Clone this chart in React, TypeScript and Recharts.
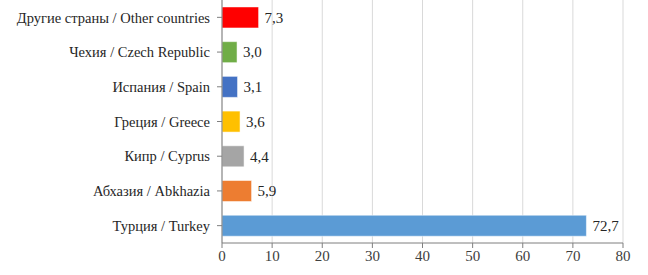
import React from 'react';
import { BarChart, Bar, XAxis, YAxis, CartesianGrid, Cell, LabelList } from 'recharts';

const countries = [
    'Другие страны / Other countries',
    'Чехия / Czech Republic',
    'Испания  / Spain',
    'Греция / Greece',
    'Кипр / Cyprus',
    'Абхазия / Abkhazia',
    'Турция / Turkey',
];
const shares = [7.3, 3.0, 3.1, 3.6, 4.4, 5.9, 72.7];
const barColors = ['#ff0000', '#70ad47', '#4472c4', '#ffc000', '#a5a5a5', '#ed7d31', '#5b9bd5'];
const xTicks = [0, 10, 20, 30, 40, 50, 60, 70, 80];

const data = countries.map((name, i) => ({ name, value: shares[i] }));

const font = "'Liberation Serif', 'Times New Roman', 'DejaVu Serif', serif";

export default function App() {
    return (
        <div style={{ position: 'absolute', left: 0, top: 0, width: 648, height: 275, background: '#fff' }}>
            <BarChart
                width={648}
                height={275}
                data={data}
                layout="vertical"
                margin={{ top: 0, right: 25, left: 0, bottom: 2 }}
                barCategoryGap="20%"
            >
                <CartesianGrid horizontal={false} stroke="#d9d9d9" />
                <XAxis
                    type="number"
                    domain={[0, 80]}
                    ticks={xTicks}
                    interval={0}
                    height={30}
                    stroke="#7f7f7f"
                    tickSize={5}
                    tick={{ fontFamily: font, fontSize: 15, fill: '#404040' }}
                />
                <YAxis
                    type="category"
                    dataKey="name"
                    width={222}
                    stroke="#7f7f7f"
                    tickSize={5}
                    tickMargin={7}
                    interval={0}
                    tick={{ fontFamily: font, fontSize: 14.5, fill: '#262626' }}
                />
                <Bar dataKey="value" isAnimationActive={false}>
                    {data.map((d, i) => (
                        <Cell key={d.name} fill={barColors[i]} stroke="#ffffff" strokeOpacity={0.5} strokeWidth={1} />
                    ))}
                    <LabelList
                        dataKey="value"
                        position="right"
                        offset={6}
                        style={{ fontFamily: font, fontSize: 15, fill: '#262626' }}
                        formatter={(v: number) => v.toFixed(1).replace('.', ',')}
                    />
                </Bar>
            </BarChart>
        </div>
    );
}
